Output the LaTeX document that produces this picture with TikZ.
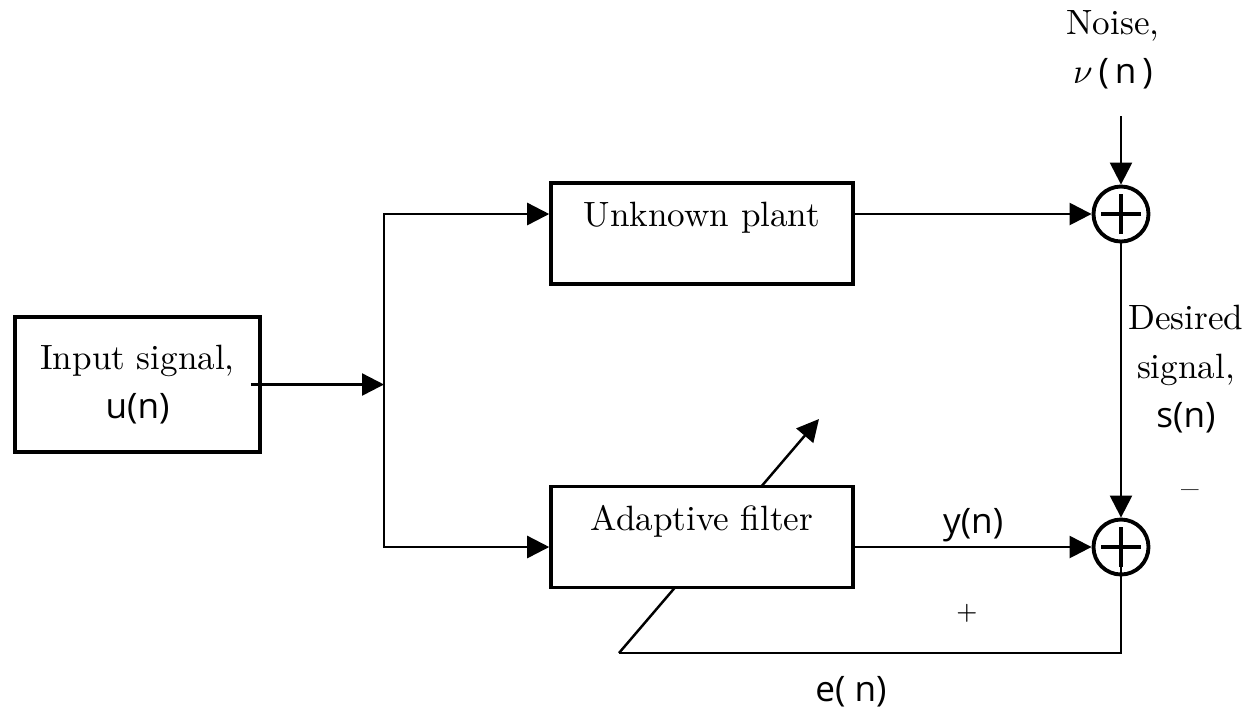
\documentclass[tikz,border=0pt]{standalone}
\usepackage{fontspec}
\setsansfont{Open Sans}
\usepackage{tikz}
\usetikzlibrary{arrows.meta}
\newcommand{\sg}[1]{{\sffamily\fontsize{10}{13}\selectfont #1}}

\begin{document}
\begin{tikzpicture}[line width=0.7pt, font=\fontsize{10}{14}\selectfont,
    blk/.style={draw, line width=1pt, fill=white, minimum width=3.02cm, minimum height=1.01cm, text height=0.25cm, text depth=0.39cm, inner sep=0pt},
    sumnode/.style={draw, circle, line width=1.1pt, fill=white, minimum size=0.55cm, inner sep=0pt,
        path picture={\draw[line width=1.2pt] ([xshift=-0.2cm]path picture bounding box.center) -- ([xshift=0.2cm]path picture bounding box.center);
                      \draw[line width=1.2pt] ([yshift=-0.2cm]path picture bounding box.center) -- ([yshift=0.2cm]path picture bounding box.center);}},
    arr/.style={-{Triangle[length=0.22cm, width=0.22cm]}}]
        \useasboundingbox (0,0) rectangle (12.52,-7.09);
        \coordinate (fb) at (6.19,-6.53);
        \coordinate (tip) at (8.19,-4.19);
        \draw[arr] (fb) -- (tip);
        \node[draw, line width=1pt, minimum width=2.45cm, minimum height=1.35cm, align=center] (inp) at (1.375,-3.845) {Input signal,\\ \sg{u(n)}};
        \node[blk] (plant) at (7.02,-2.335) {Unknown plant};
        \node[blk] (filt) at (7.02,-5.37) {Adaptive filter};
        \node[sumnode] (s1) at (11.21,-2.14) {};
        \node[sumnode] (s2) at (11.21,-5.47) {};
        \node[align=center] (noise) at (11.13,-0.495) {Noise,\\ $\nu$\,\sg{(\,n\,)}};
        \node[align=center] (des) at (11.86,-3.69) {Desired\\ signal,\\ \sg{s(n)}};
        \node (minus) at (11.90,-4.95) {\textendash};
        \node (plus) at (9.67,-6.13) {\fontsize{7}{8}\selectfont$+$};
        \node (err) at (8.51,-6.92) {\sg{e( n)}};
        \coordinate (br) at (3.84,-3.845);
        \coordinate (nz) at (11.21,-1.16);
        \draw[arr] ([xshift=-0.11cm]inp.east) -- (br);
        \draw[arr] (br) |- (plant.west |- s1);
        \draw[arr] (br) |- (filt.west |- s2);
        \draw[arr] (plant.east |- s1) -- (s1);
        \draw[arr] (filt.east |- s2) -- (s2) node[midway, yshift=0.22cm] {\sg{y(n)}};
        \draw[arr] (nz) -- (s1);
        \draw[arr] (s1) -- (s2);
        \draw (s2.center) |- (fb);
    \end{tikzpicture}
\end{document}
